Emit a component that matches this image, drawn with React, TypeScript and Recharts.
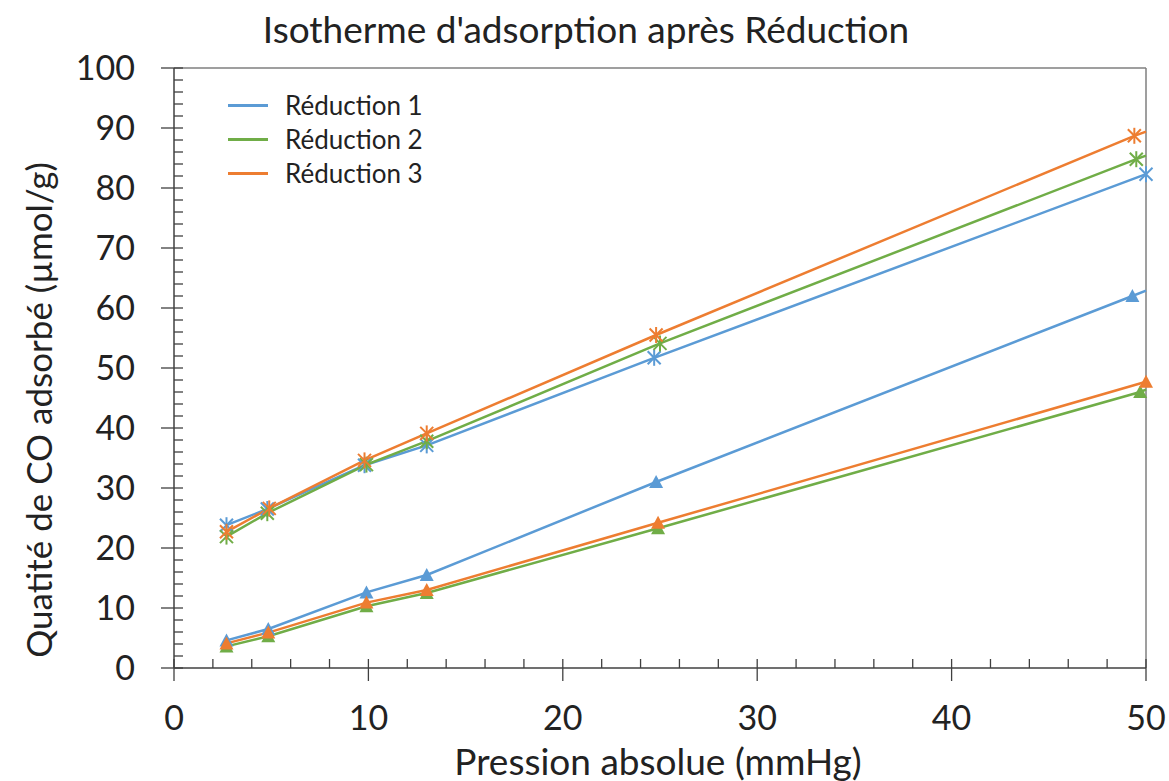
import React from "react";
import { LineChart, Line, XAxis, YAxis, ReferenceLine } from "recharts";

type Pt = { x: number; y: number };

const BLUE = "#5B9BD5";
const GREEN = "#70AD47";
const ORANGE = "#ED7D31";
const AXIS = "#404040";
const BORDER = "#7F7F7F";
const FONT = "Lato, 'Open Sans', sans-serif";

const TITLE = "Isotherme d'adsorption après Réduction";
const X_TITLE = "Pression absolue (mmHg)";
const Y_TITLE = "Quatité de CO adsorbé (µmol/g)";
const SERIES_NAMES = ["Réduction 1", "Réduction 2", "Réduction 3"];
const SERIES_COLORS = [BLUE, GREEN, ORANGE];

// major tick labels; minor ticks every 2 units
const X_LABELS = [0, 10, 20, 30, 40, 50];
const Y_LABELS = [0, 10, 20, 30, 40, 50, 60, 70, 80, 90, 100];
const MINOR_STEP = 2;

// upper curves (asterisk markers)
const R1_STAR: Pt[] = [
  { x: 2.7, y: 23.8 }, { x: 4.8, y: 26.5 }, { x: 9.8, y: 33.8 },
  { x: 13.0, y: 37.1 }, { x: 24.7, y: 51.7 }, { x: 50.0, y: 82.3 },
];
const R2_STAR: Pt[] = [
  { x: 2.7, y: 21.9 }, { x: 4.8, y: 25.8 }, { x: 9.9, y: 33.9 },
  { x: 13.0, y: 37.8 }, { x: 25.0, y: 54.1 }, { x: 49.5, y: 84.8 },
];
const R3_STAR: Pt[] = [
  { x: 2.7, y: 22.7 }, { x: 4.9, y: 26.6 }, { x: 9.8, y: 34.6 },
  { x: 13.0, y: 39.1 }, { x: 24.8, y: 55.5 }, { x: 49.4, y: 88.7 },
];

// lower curves (triangle markers)
const R1_TRI: Pt[] = [
  { x: 2.7, y: 4.6 }, { x: 4.85, y: 6.5 }, { x: 9.9, y: 12.6 },
  { x: 13.0, y: 15.5 }, { x: 24.8, y: 31.0 }, { x: 49.3, y: 62.0 },
];
const R2_TRI: Pt[] = [
  { x: 2.7, y: 3.6 }, { x: 4.85, y: 5.3 }, { x: 9.9, y: 10.3 },
  { x: 13.0, y: 12.5 }, { x: 24.9, y: 23.3 }, { x: 49.7, y: 46.0 },
];
const R3_TRI: Pt[] = [
  { x: 2.7, y: 4.1 }, { x: 4.85, y: 5.9 }, { x: 9.9, y: 10.9 },
  { x: 13.0, y: 13.0 }, { x: 24.9, y: 24.2 }, { x: 50.0, y: 47.7 },
];

// where the lines meet the right border (no marker there)
const R1_TRI_END: Pt[] = [{ x: 50, y: 62.9 }];
const R2_TRI_END: Pt[] = [{ x: 50, y: 46.4 }];
const R2_STAR_END: Pt[] = [{ x: 50, y: 85.4 }];
const R3_STAR_END: Pt[] = [{ x: 50, y: 89.4 }];

const xTicks = Array.from({ length: 50 / MINOR_STEP + 1 }, (_, i) => i * MINOR_STEP);
const yTicks = Array.from({ length: 100 / MINOR_STEP + 1 }, (_, i) => i * MINOR_STEP);

function starDot(color: string, n: number) {
  return (props: any) => {
    const { cx, cy, index } = props;
    if (index >= n || cx == null || cy == null) return <g key={`s-${index}`} />;
    const r = 8;
    const d = 6.5;
    return (
      <g key={`s-${index}`} stroke={color} strokeWidth={2}>
        <line x1={cx} y1={cy - r} x2={cx} y2={cy + r} />
        <line x1={cx - d} y1={cy - d} x2={cx + d} y2={cy + d} />
        <line x1={cx - d} y1={cy + d} x2={cx + d} y2={cy - d} />
      </g>
    );
  };
}

function triDot(color: string, n: number) {
  return (props: any) => {
    const { cx, cy, index } = props;
    if (index >= n || cx == null || cy == null) return <g key={`t-${index}`} />;
    return (
      <polygon
        key={`t-${index}`}
        points={`${cx},${cy - 7} ${cx + 7},${cy + 6} ${cx - 7},${cy + 6}`}
        fill={color}
      />
    );
  };
}

function XTick(props: any) {
  const { x, y, payload } = props;
  const major = X_LABELS.includes(payload.value);
  return (
    <g>
      <line x1={x} x2={x} y1={y - 9} y2={major ? y + 13 : y} stroke={AXIS} strokeWidth={1.3} />
      {major && (
        <text x={x} y={y + 62} textAnchor="middle" fontSize={34} fill="#222" fontFamily={FONT}>
          {payload.value}
        </text>
      )}
    </g>
  );
}

function YTick(props: any) {
  const { x, y, payload } = props;
  const major = Y_LABELS.includes(payload.value);
  return (
    <g>
      <line x1={major ? x - 13 : x} x2={x + 9} y1={y} y2={y} stroke={AXIS} strokeWidth={1.3} />
      {major && (
        <text x={x - 39} y={y + 12} textAnchor="end" fontSize={34} fill="#222" fontFamily={FONT}>
          {payload.value}
        </text>
      )}
    </g>
  );
}

export default function App() {
  const withEnd = (pts: Pt[], end: Pt[]) => [...pts, ...end];
  return (
    <div style={{ position: "absolute", left: 0, top: 0, width: 1169, height: 781, background: "#fff" }}>
      <div
        style={{
          position: "absolute",
          left: 0,
          top: 10,
          width: 1172,
          textAlign: "center",
          fontFamily: FONT,
          fontSize: 37,
          lineHeight: "37px",
          color: "#222",
          zIndex: 2,
        }}
      >
        {TITLE}
      </div>
      {/* legend: only the three series colours, no markers */}
      <div style={{ position: "absolute", left: 228, top: 88, zIndex: 2, fontFamily: FONT, color: "#222" }}>
        {SERIES_NAMES.map((name, i) => (
          <div key={name} style={{ display: "flex", alignItems: "center", height: 34 }}>
            <div style={{ width: 40, height: 3, background: SERIES_COLORS[i], marginRight: 17 }} />
            <span style={{ fontSize: 26, lineHeight: "34px" }}>{name}</span>
          </div>
        ))}
      </div>
      <LineChart width={1169} height={781} margin={{ top: 68, right: 23, bottom: 53, left: 94 }}>
        <XAxis
          dataKey="x"
          type="number"
          domain={[0, 50]}
          ticks={xTicks}
          interval={0}
          height={60}
          tickSize={0}
          tickMargin={0}
          tickLine={false}
          tick={<XTick />}
          axisLine={{ stroke: AXIS, strokeWidth: 1.5 }}
          label={{
            content: (p: any) => {
              const vb = p.viewBox;
              return (
                <text x={vb.x + vb.width / 2 - 2} y={775} textAnchor="middle" fontSize={37} fill="#222" fontFamily={FONT}>
                  {X_TITLE}
                </text>
              );
            },
          }}
        />
        <YAxis
          type="number"
          domain={[0, 100]}
          ticks={yTicks}
          interval={0}
          width={80}
          tickSize={0}
          tickMargin={0}
          tickLine={false}
          tick={<YTick />}
          axisLine={{ stroke: AXIS, strokeWidth: 1.5 }}
          label={{
            content: (p: any) => {
              const vb = p.viewBox;
              const cx = vb.x - 56;
              const cy = vb.y + vb.height / 2 + 42;
              return (
                <text
                  x={cx}
                  y={cy}
                  transform={`rotate(-90, ${cx}, ${cy})`}
                  textAnchor="middle"
                  dominantBaseline="central"
                  fontSize={35}
                  fill="#222"
                  fontFamily={FONT}
                >
                  {Y_TITLE}
                </text>
              );
            },
          }}
        />
        <ReferenceLine y={100} stroke={BORDER} strokeWidth={1.5} />
        <ReferenceLine x={50} stroke={BORDER} strokeWidth={1.5} />

        <Line data={R1_STAR} dataKey="y" name={SERIES_NAMES[0]} stroke={BLUE} strokeWidth={2.5}
          dot={starDot(BLUE, R1_STAR.length)} activeDot={false} isAnimationActive={false} />
        <Line data={withEnd(R2_STAR, R2_STAR_END)} dataKey="y" name={SERIES_NAMES[1]} stroke={GREEN} strokeWidth={2.5}
          dot={starDot(GREEN, R2_STAR.length)} activeDot={false} isAnimationActive={false} />
        <Line data={withEnd(R3_STAR, R3_STAR_END)} dataKey="y" name={SERIES_NAMES[2]} stroke={ORANGE} strokeWidth={2.5}
          dot={starDot(ORANGE, R3_STAR.length)} activeDot={false} isAnimationActive={false} />

        <Line data={withEnd(R1_TRI, R1_TRI_END)} dataKey="y" stroke={BLUE} strokeWidth={2.5}
          dot={triDot(BLUE, R1_TRI.length)} activeDot={false} isAnimationActive={false} />
        <Line data={withEnd(R2_TRI, R2_TRI_END)} dataKey="y" stroke={GREEN} strokeWidth={2.5}
          dot={triDot(GREEN, R2_TRI.length)} activeDot={false} isAnimationActive={false} />
        <Line data={R3_TRI} dataKey="y" stroke={ORANGE} strokeWidth={2.5}
          dot={triDot(ORANGE, R3_TRI.length)} activeDot={false} isAnimationActive={false} />
      </LineChart>
    </div>
  );
}
